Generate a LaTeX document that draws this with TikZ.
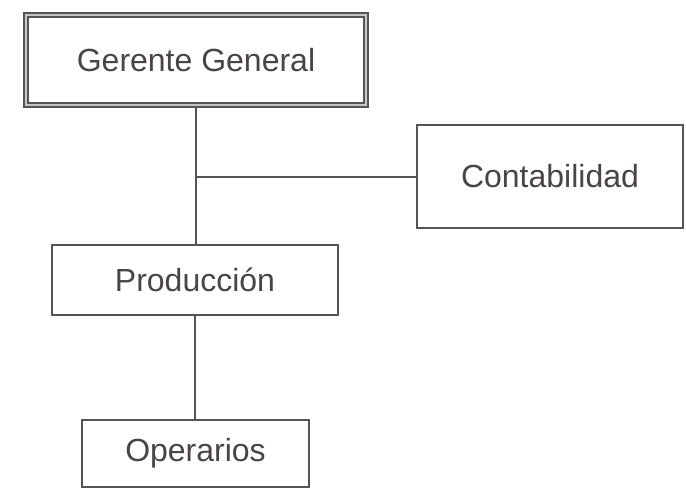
\documentclass[tikz,border=0pt]{standalone}
\usepackage{fontspec}
\setmainfont{Liberation Sans}
\definecolor{ink}{HTML}{4A4448}
\definecolor{rule}{HTML}{555555}
\begin{document}
\begin{tikzpicture}[x=1pt,y=-1pt,
  unit/.style={draw=rule, line width=2pt, fill=white, inner sep=0pt,
    text=ink, font=\fontsize{32}{36}\selectfont},
  head/.style={unit, double=gray!45, double distance=1.6pt, line width=2pt},
  link/.style={draw=rule, line width=2pt}]
  \useasboundingbox[fill=white] (0,0) rectangle (686,491);

  \node[head, minimum width=340pt, minimum height=90pt] (g) at (196,60) {Gerente General};
  \node[unit, minimum width=266pt, minimum height=103pt] (c) at (550,176.5) {Contabilidad};
  \node[unit, minimum width=286pt, minimum height=70pt] (p) at (195,280) {Producción};
  \node[unit, minimum width=227pt, minimum height=67pt] (o) at (195.5,453.5) {Operarios};

  \coordinate (j) at (g.south |- c.west);
  \draw[link] (g.south) -- (g.south |- p.north);
  \draw[link] (j) -- (c.west);
  \draw[link] (p.south) -- (p.south |- o.north);
\end{tikzpicture}
\end{document}
